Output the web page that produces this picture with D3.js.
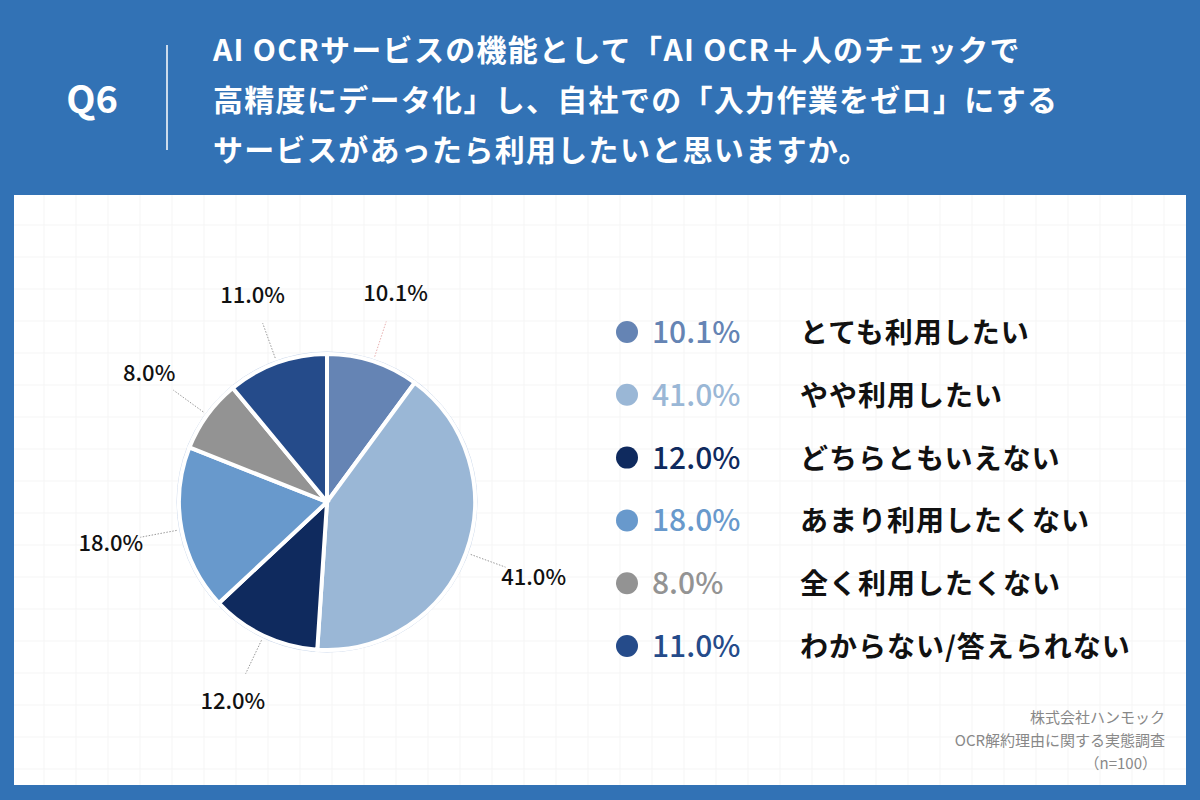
<!DOCTYPE html>
<html><head><meta charset="utf-8">
<script src="https://cdn.jsdelivr.net/npm/d3@7"></script>
<style>body{margin:0;background:#3272b5}svg{display:block}text{font-family:"Noto Sans CJK JP","Noto Sans",sans-serif}</style>
</head><body><svg id="c" width="1200" height="800"></svg>
<script>
const categories=["とても利用したい","やや利用したい","どちらともいえない","あまり利用したくない","全く利用したくない","わからない/答えられない"];
const values=[10.1,41.0,12.0,18.0,8.0,11.0];
const colors=["#6584b4","#9ab7d6","#0f2a5e","#6899cc","#939393","#254b8a"];
const titleLines=["AI OCRサービスの機能として「AI OCR＋人のチェックで","高精度にデータ化」し、自社での「入力作業をゼロ」にする","サービスがあったら利用したいと思いますか。"];
const notes=["株式会社ハンモック","OCR解約理由に関する実態調査","（n=100）"];

const svg=d3.select("#c");
svg.append("rect").attr("width",1200).attr("height",800).attr("fill","#3272b5");
svg.append("rect").attr("x",14).attr("y",195).attr("width",1172).attr("height",590).attr("fill","#fff");
const g=svg.append("g");
for(let x=14+30;x<1186;x+=32)g.append("line").attr("x1",x).attr("x2",x).attr("y1",195).attr("y2",785).attr("stroke","#f5f5f5");
for(let y=195+30;y<785;y+=32)g.append("line").attr("x1",14).attr("x2",1186).attr("y1",y).attr("y2",y).attr("stroke","#f5f5f5");

svg.append("text").attr("x",92).attr("y",113).attr("text-anchor","middle").attr("fill","#fff").attr("font-size",38).attr("font-weight",700).attr("font-family","Inter,sans-serif").text("Q6");
svg.append("line").attr("x1",167).attr("x2",167).attr("y1",45).attr("y2",150).attr("stroke","#fff").attr("stroke-width",1.5);
titleLines.forEach((t,i)=>svg.append("text").attr("x",213).attr("y",61+i*50).attr("fill","#fff").attr("font-size",30).attr("font-weight",700).attr("letter-spacing",1.3).text(t));

const cx=327,cy=502,R=148;
const pie=d3.pie().sort(null).value(d=>d);
const arcs=pie(values);
const arc=d3.arc().innerRadius(0).outerRadius(R);
const pg=svg.append("g").attr("transform",`translate(${cx},${cy})`);
pg.append("circle").attr("r",R+2).attr("fill","none").attr("stroke","#c8d6ea").attr("stroke-width",1);
pg.selectAll("path").data(arcs).join("path").attr("d",arc).attr("fill",(d,i)=>colors[i]).attr("stroke","#fff").attr("stroke-width",4);
const p=(a,r)=>[Math.sin(a)*r,-Math.cos(a)*r];
arcs.forEach((d,i)=>{
  const m=(d.startAngle+d.endAngle)/2;
  const a=p(m,153),b=p(m,190),l=p(m,220);
  pg.append("line").attr("x1",a[0]).attr("y1",a[1]).attr("x2",b[0]).attr("y2",b[1]).attr("stroke",i==0?"#e8b0b0":"#999").attr("stroke-dasharray","1.5,1.5");
  pg.append("text").attr("x",l[0]).attr("y",l[1]+8).attr("text-anchor","middle").attr("font-size",22).attr("font-weight",500).attr("font-family","Inter,sans-serif").attr("fill","#111").text(values[i].toFixed(1)+"%");
});

const ly=d3.scalePoint().domain(d3.range(6)).range([332,646]);
categories.forEach((c,i)=>{
  const y=ly(i);
  svg.append("circle").attr("cx",627).attr("cy",y).attr("r",11).attr("fill",colors[i]);
  svg.append("text").attr("x",652).attr("y",y+11).attr("font-size",30).attr("font-weight",500).attr("font-family","Inter,sans-serif").attr("fill",colors[i]).text(values[i].toFixed(1)+"%");
  svg.append("text").attr("x",800).attr("y",y+11).attr("font-size",28).attr("font-weight",700).attr("letter-spacing",1).attr("fill","#111").text(c);
});
notes.forEach((t,i)=>svg.append("text").attr("x",i==2?1157:1165).attr("y",723+i*23).attr("text-anchor","end").attr("font-size",15).attr("fill","#888").text(t));
</script></body></html>
